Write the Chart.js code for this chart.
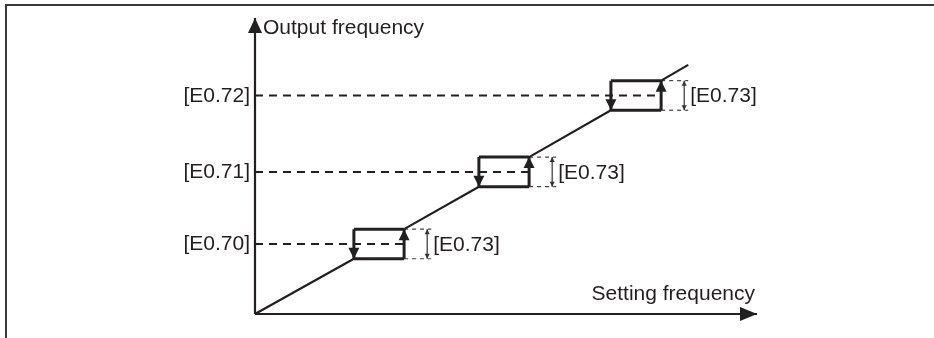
<!DOCTYPE html>
<html>
<head>
<meta charset="utf-8">
<script src="https://cdn.jsdelivr.net/npm/chart.js@4"></script>
<style>
  body { margin: 0; background: #fff; }
  #wrap { position: relative; width: 934px; height: 338px; }
  #frame { position: absolute; left: 5px; top: 4px; right: 0; bottom: 0;
           border-top: 2px solid #3a3a3a; border-left: 2px solid #3a3a3a; pointer-events: none; }
</style>
</head>
<body>
<div id="wrap">
  <canvas id="hystChart" width="934" height="338"></canvas>
  <div id="frame"></div>
</div>
<script>
// ========== Data ==========
const levelLabels = ['[E0.70]', '[E0.71]', '[E0.72]'];
const levels = [14.2, 28.8, 44.3];        // output frequency of each step
const boxStart = [19.7, 44.6, 70.9];      // setting frequency where band starts
const boxEnd = [29.7, 54.6, 80.9];        // setting frequency where band ends
const band = 3;                           // half of the [E0.73] band
const bandLabel = '[E0.73]';
const rampEnd = [86.3, 50.5];
const xTitle = 'Setting frequency';
const yTitle = 'Output frequency';

const X_MAX = 100;
const Y_MAX = 60;
const DIM_GAP = 4.6;   // dimension line distance from band edge (x units)
const EXT_GAP = 5.4;

const ink = '#231f20';
const font = '21px "Liberation Sans", Arial, sans-serif';

// ========== Build datasets ==========
const datasets = [];
function seg(points, style) {
    datasets.push(Object.assign({
        data: points.map(p => ({ x: p[0], y: p[1] })),
        borderColor: ink,
        backgroundColor: ink,
        borderWidth: 2,
        pointRadius: 0,
        showLine: true,
        fill: false,
        clip: false,
        tension: 0
    }, style));
}

// axes
seg([[0, 0], [0, Y_MAX]], { borderWidth: 2.2, arrowHead: { len: 15, half: 7 } });
seg([[0, 0], [X_MAX, 0]], { borderWidth: 2.2, arrowHead: { len: 17, half: 7 } });

// ramp between the bands
let prev = [0, 0];
levels.forEach((lv, i) => {
    seg([prev, [boxStart[i], lv - band]], { borderWidth: 2.2 });
    prev = [boxEnd[i], lv + band];
});
seg([prev, rampEnd], { borderWidth: 2.2 });

levels.forEach((lv, i) => {
    const L = boxStart[i], R = boxEnd[i];
    seg([[0, lv], [R, lv]], { borderWidth: 2, borderDash: [8, 6] });
    seg([[L, lv + band], [R, lv + band]], { borderWidth: 3 });
    seg([[L, lv - band], [R, lv - band]], { borderWidth: 3 });
    seg([[L, lv + band], [L, lv - band]], { borderWidth: 3, arrowHead: { len: 11, half: 5.5 } });
    seg([[R, lv - band], [R, lv + band]], { borderWidth: 3, arrowHead: { len: 11, half: 5.5 } });
    seg([[R, lv + band], [R + EXT_GAP, lv + band]], { borderWidth: 1.2, borderDash: [4, 4], borderColor: '#444' });
    seg([[R, lv - band], [R + EXT_GAP, lv - band]], { borderWidth: 1.2, borderDash: [4, 4], borderColor: '#444' });
    seg([[R + DIM_GAP, lv - band], [R + DIM_GAP, lv + band]], { borderWidth: 1.2, borderColor: '#333', arrowHead: { len: 5, half: 2.5, both: true } });
});

// ========== Plugins ==========
function drawHead(ctx, from, to, len, half) {
    const ang = Math.atan2(to.y - from.y, to.x - from.x);
    ctx.save();
    ctx.translate(to.x, to.y);
    ctx.rotate(ang);
    ctx.beginPath();
    ctx.moveTo(0, 0);
    ctx.lineTo(-len, -half);
    ctx.lineTo(-len, half);
    ctx.closePath();
    ctx.fill();
    ctx.restore();
}

const arrowHeads = {
    id: 'arrowHeads',
    afterDatasetsDraw(chart) {
        const ctx = chart.ctx;
        chart.data.datasets.forEach((ds, i) => {
            if (!ds.arrowHead) return;
            const pts = chart.getDatasetMeta(i).data;
            const a = pts[pts.length - 2], b = pts[pts.length - 1];
            ctx.fillStyle = ds.borderColor;
            drawHead(ctx, a, b, ds.arrowHead.len, ds.arrowHead.half);
            if (ds.arrowHead.both) drawHead(ctx, b, a, ds.arrowHead.len, ds.arrowHead.half);
        });
    }
};

const labels = {
    id: 'labels',
    afterDraw(chart) {
        const ctx = chart.ctx;
        const xs = chart.scales.x, ys = chart.scales.y;
        const x0 = xs.getPixelForValue(0), y0 = ys.getPixelForValue(0);
        ctx.save();
        ctx.font = font;
        ctx.fillStyle = ink;
        ctx.textBaseline = 'alphabetic';

        ctx.textAlign = 'right';
        levels.forEach((lv, i) => {
            ctx.fillText(levelLabels[i], x0 - 5, ys.getPixelForValue(lv) + 6.5);
        });

        ctx.textAlign = 'left';
        levels.forEach((lv, i) => {
            ctx.fillText(bandLabel, xs.getPixelForValue(boxEnd[i] + DIM_GAP) + 6, ys.getPixelForValue(lv) + 7);
        });

        ctx.fillText(yTitle, x0 + 8, ys.getPixelForValue(Y_MAX) + 16);
        ctx.textAlign = 'right';
        ctx.fillText(xTitle, xs.getPixelForValue(X_MAX) - 2, y0 - 14);
        ctx.restore();
    }
};

// ========== Chart ==========
new Chart(document.getElementById('hystChart').getContext('2d'), {
    type: 'scatter',
    data: { datasets },
    options: {
        responsive: false,
        animation: false,
        devicePixelRatio: 1,
        layout: { padding: { left: 255, right: 177, top: 18, bottom: 24 } },
        scales: {
            x: { type: 'linear', min: 0, max: X_MAX, display: false },
            y: { type: 'linear', min: 0, max: Y_MAX, display: false }
        },
        plugins: {
            legend: { display: false },
            tooltip: { enabled: false }
        }
    },
    plugins: [arrowHeads, labels]
});
</script>
</body>
</html>
